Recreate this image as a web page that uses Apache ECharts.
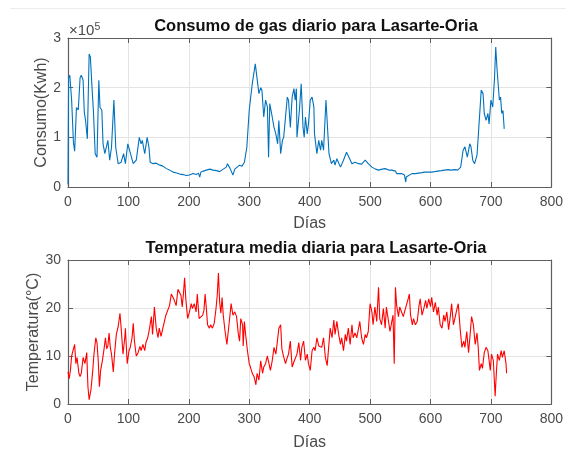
<!DOCTYPE html>
<html>
<head>
<meta charset="utf-8">
<script src="https://cdn.jsdelivr.net/npm/echarts@6/dist/echarts.min.js"></script>
<style>
  html, body { margin: 0; padding: 0; background: #fff; }
  #chart { width: 566px; height: 452px; }
</style>
</head>
<body>
<div id="chart"></div>
<script>
// Consumo diario de gas: [día, consumo en 10^5 Kwh]
const gasDiario = [
  [0,0.05],[1,2.2],[3,2.25],[6,1.75],[9,0.9],[11,0.72],[14,1.6],[17,1.55],[20,2.2],[22,2.25],
  [25,2.15],[27,1.5],[29,1.35],[32,0.97],[35,2.68],[37,2.62],[40,1.95],[42,1.55],[45,0.67],[48,0.6],
  [51,2.15],[53,1.6],[56,1.55],[58,0.87],[61,0.67],[64,0.68],[66,0.94],[69,0.54],[72,0.8],[76,1.75],
  [79,0.8],[83,0.47],[88,0.5],[92,0.67],[95,0.47],[99,0.87],[102,0.87],[105,0.6],[108,0.47],[113,0.54],
  [118,1.0],[121,0.87],[123,0.94],[127,0.67],[131,1.0],[134,0.8],[136,0.5],[141,0.47],[146,0.48],[152,0.44],
  [157,0.42],[163,0.37],[168,0.34],[174,0.3],[180,0.28],[185,0.26],[190,0.25],[196,0.23],[201,0.24],[207,0.27],
  [212,0.25],[216,0.28],[218,0.2],[220,0.3],[224,0.32],[229,0.34],[235,0.36],[240,0.34],[246,0.33],[251,0.31],
  [257,0.36],[262,0.4],[264,0.47],[268,0.38],[271,0.34],[273,0.24],[276,0.36],[280,0.4],[284,0.44],[288,0.42],
  [292,0.5],[296,0.8],[300,1.55],[305,2.08],[310,2.48],[312,2.52],[316,1.88],[319,2.0],[321,1.95],[324,1.41],
  [327,1.75],[330,1.62],[332,0.6],[334,1.68],[338,1.41],[341,1.2],[344,1.07],[347,0.87],[349,1.34],[352,0.67],
  [355,0.94],[357,1.0],[363,1.81],[365,1.75],[368,1.2],[371,1.81],[374,1.98],[376,1.75],[378,1.98],[379,1.0],
  [383,1.54],[386,2.08],[389,1.2],[391,1.0],[393,1.41],[396,1.07],[398,1.27],[401,1.75],[404,1.81],[407,1.61],
  [408,1.07],[412,0.67],[415,0.94],[418,0.74],[420,0.94],[423,0.74],[427,1.75],[430,1.75],[432,0.67],[436,0.47],
  [440,0.54],[442,0.44],[445,0.57],[451,0.4],[456,0.54],[461,0.7],[465,0.6],[470,0.47],[475,0.5],[481,0.47],
  [486,0.46],[492,0.54],[497,0.47],[503,0.4],[509,0.36],[514,0.34],[520,0.36],[525,0.37],[531,0.34],[536,0.34],
  [542,0.32],[544,0.27],[547,0.3],[552,0.27],[557,0.24],[559,0.1],[560,0.2],[563,0.24],[569,0.27],[575,0.27],
  [580,0.28],[586,0.29],[590,0.3],[596,0.3],[601,0.3],[607,0.31],[612,0.32],[618,0.33],[623,0.34],[629,0.35],
  [634,0.34],[640,0.35],[645,0.34],[650,0.4],[654,0.74],[657,0.81],[661,0.6],[665,0.87],[667,0.81],[670,0.54],
  [673,0.47],[677,0.64],[680,1.2],[684,1.95],[687,1.88],[689,1.48],[692,1.34],[695,1.48],[697,1.27],[700,1.75],
  [703,1.61],[706,2.2],[708,2.82],[710,2.4],[714,1.75],[716,1.81],[718,1.48],[720,1.54],[722,1.17]
];

// Temperatura media diaria: [día, °C]
const tempDiaria = [
  [0,6.7],[2,5.3],[4,7],[6,10],[9,9.7],[11,12.4],[13,8.4],[15,9.7],[18,6.4],[20,5.7],
  [22,6.4],[25,9.7],[28,8.4],[31,10.7],[33,3.6],[35,0.9],[38,3],[41,7],[43,10.4],[46,13.8],
  [48,12.8],[50,9.1],[52,3.6],[54,7],[57,9.1],[60,11.8],[62,13.8],[64,11.5],[66,12.1],[68,14.8],
  [70,11.8],[72,10.4],[75,6.7],[77,10.4],[80,14.5],[83,16.1],[86,18.9],[88,15.8],[91,10.4],[94,13.8],
  [95,15.8],[98,8.4],[101,11.1],[103,11.8],[106,13.8],[108,16.8],[110,13.1],[113,10],[116,10.7],[119,12],
  [121,11.1],[124,12.4],[127,11.1],[129,12.8],[132,13.8],[135,15.8],[138,18.2],[140,14.5],[143,20.2],[146,15.8],
  [149,13.8],[151,15.8],[154,14.1],[157,15.8],[160,16.1],[162,18.5],[165,18.2],[168,20.5],[171,22.9],[173,22.6],
  [176,21.6],[179,20.5],[182,23.9],[184,23.6],[187,22.6],[189,20.2],[191,22.9],[193,26.3],[195,21.9],[198,17.8],
  [201,19.2],[204,20.9],[206,19.9],[209,20.9],[212,19.2],[214,22.9],[217,17.8],[220,18.2],[223,18.5],[225,19.5],
  [227,22.9],[229,19.9],[231,16.5],[234,15.8],[236,16.5],[239,15.8],[242,16.8],[245,19.9],[247,22.6],[249,27.3],
  [251,21.2],[253,18.9],[255,22.2],[257,18.5],[260,15.1],[263,12.4],[267,17.2],[270,20.9],[273,18.5],[276,19.2],
  [279,18.2],[282,14.5],[284,13.1],[286,17.8],[289,16.5],[290,12.1],[292,17.2],[294,14.5],[297,11.1],[300,8.4],
  [302,7.7],[305,6.4],[308,5.7],[311,4],[313,6.4],[316,5],[319,9],[322,6.4],[324,7.7],[327,8.4],
  [330,10],[333,10],[335,7],[338,9],[341,11.8],[344,10.4],[346,12.4],[349,15.8],[352,16.5],[354,11.5],
  [357,9.8],[360,8.4],[363,9.7],[365,10.4],[368,13.1],[371,7.7],[374,8.8],[376,8.4],[379,10.4],[382,12.8],
  [385,9.1],[387,11.8],[390,13.1],[393,9.1],[396,10.4],[398,8.4],[401,7],[404,11.1],[407,11.8],[409,11.1],
  [412,13.8],[415,12.1],[418,12.4],[420,11.8],[423,13.8],[426,9.7],[429,8],[431,11.1],[434,15.8],[437,13.8],
  [440,17.5],[442,14.5],[445,17.2],[448,14.5],[451,12.4],[453,13.8],[456,11.1],[459,14.5],[461,13.1],[464,15.8],
  [467,12.4],[470,16.5],[472,13.8],[475,14.8],[478,13.8],[481,15.8],[483,17.2],[486,13.8],[489,12.4],[492,14.5],
  [494,13.8],[497,15.1],[500,20.9],[503,19.2],[505,16.5],[508,20.2],[511,17.2],[514,24.3],[516,17.8],[519,16.5],
  [522,19.9],[525,15.8],[527,20.2],[530,20.5],[533,15.1],[536,17.2],[538,18.5],[540,8.4],[542,24.3],[544,20.5],
  [547,18.2],[549,20.2],[552,20.5],[555,18.2],[557,19.2],[560,19.2],[563,21.9],[565,22.9],[567,18.5],[570,16.5],
  [572,17.8],[575,16.5],[578,17.2],[581,20.5],[583,21.9],[586,18.5],[589,19.9],[592,21.6],[594,19.9],[597,21.9],
  [600,20.3],[602,22.2],[605,19.2],[608,21.2],[611,18.5],[613,20.2],[616,16.5],[619,15.8],[622,18.5],[624,17.2],
  [627,19.2],[630,15.5],[633,18.5],[635,20.9],[638,16.5],[641,18.2],[644,19.9],[646,20.9],[649,15.8],[652,11.8],
  [655,13.1],[657,11.8],[660,15.1],[663,10.7],[666,15.1],[668,18.2],[671,16.5],[674,12.4],[677,14.8],[679,11.8],
  [681,7],[684,8.4],[686,7.4],[689,10.7],[692,11.8],[695,11.1],[697,9.1],[699,7],[701,10.4],[704,9.1],
  [707,1.6],[709,6.4],[711,10.4],[714,9.1],[717,11.1],[719,9.7],[722,11.1],[725,8.4],[726,6.4]
];

const titulos = ['Consumo de gas diario para Lasarte-Oria', 'Temperatura media diaria para Lasarte-Oria'];
const nombreEjeX = 'Días';
const nombresEjeY = ['Consumo(Kwh)', 'Temperatura(°C)'];

const FONT = '"Liberation Sans", Arial, Helvetica, sans-serif';
const AXIS_COLOR = '#5e5e5e';
const TEXT_COLOR = '#4a4a4a';
const GRID_COLOR = '#e4e4e4';

const grids = [
  { left: 68, top: 38, width: 486, height: 149 },
  { left: 68, top: 260, width: 486, height: 148 }
];

function mainX(gi, gap) {
  return {
    type: 'value', gridIndex: gi, min: 0, max: 800, interval: 100,
    name: nombreEjeX, nameLocation: 'middle', nameGap: gap, nameMoveOverlap: false,
    nameTextStyle: { fontFamily: FONT, fontSize: 16, color: TEXT_COLOR },
    axisLine: { show: true, onZero: false, lineStyle: { color: AXIS_COLOR, width: 1.2 } },
    axisTick: { show: true, inside: true, length: 5, lineStyle: { color: AXIS_COLOR } },
    axisLabel: { fontFamily: FONT, fontSize: 14, color: TEXT_COLOR, margin: 8 },
    splitLine: { show: true, lineStyle: { color: GRID_COLOR, width: 1 } }
  };
}
function sideX(gi) {
  return {
    type: 'value', gridIndex: gi, position: 'top', min: 0, max: 800, interval: 100,
    axisLine: { show: true, onZero: false, lineStyle: { color: AXIS_COLOR, width: 1.2 } },
    axisTick: { show: true, inside: true, length: 5, lineStyle: { color: AXIS_COLOR } },
    axisLabel: { show: false }, splitLine: { show: false }
  };
}
function mainY(gi, max, interval, name, gap) {
  return {
    type: 'value', gridIndex: gi, min: 0, max: max, interval: interval,
    name: name, nameLocation: 'middle', nameGap: gap, nameMoveOverlap: false,
    nameTextStyle: { fontFamily: FONT, fontSize: 16, color: TEXT_COLOR },
    axisLine: { show: true, onZero: false, lineStyle: { color: AXIS_COLOR, width: 1.2 } },
    axisTick: { show: true, inside: true, length: 5, lineStyle: { color: AXIS_COLOR } },
    axisLabel: { fontFamily: FONT, fontSize: 14, color: TEXT_COLOR, margin: 7 },
    splitLine: { show: true, lineStyle: { color: GRID_COLOR, width: 1 } }
  };
}
function sideY(gi, max, interval) {
  return {
    type: 'value', gridIndex: gi, position: 'right', min: 0, max: max, interval: interval,
    axisLine: { show: true, onZero: false, lineStyle: { color: AXIS_COLOR, width: 1.2 } },
    axisTick: { show: true, inside: true, length: 5, lineStyle: { color: AXIS_COLOR } },
    axisLabel: { show: false }, splitLine: { show: false }
  };
}

const chart = echarts.init(document.getElementById('chart'), null, { renderer: 'canvas' });
chart.setOption({
  animation: false,
  backgroundColor: '#ffffff',
  title: [
    { text: titulos[0], left: 311, top: 13, textAlign: 'center',
      textStyle: { fontFamily: FONT, fontSize: 16.5, fontWeight: 'bold', color: '#111' } },
    { text: titulos[1], left: 311, top: 235, textAlign: 'center',
      textStyle: { fontFamily: FONT, fontSize: 16.5, fontWeight: 'bold', color: '#111' } }
  ],
  grid: grids,
  xAxis: [mainX(0, 29), sideX(0), mainX(1, 31), sideX(1)],
  yAxis: [
    mainY(0, 3, 1, nombresEjeY[0], 18),
    sideY(0, 3, 1),
    mainY(1, 30, 10, nombresEjeY[1], 26),
    sideY(1, 30, 10)
  ],
  graphic: [
    { type: 'line', shape: { x1: 10, y1: 8.5, x2: 566, y2: 8.5 },
      style: { stroke: '#ececec', lineWidth: 1 } },
    { type: 'text', left: 69, top: 22,
      style: { text: '×10{s|5}', fontFamily: FONT, fontSize: 15, fill: TEXT_COLOR,
        rich: { s: { fontFamily: FONT, fontSize: 10.5, fill: TEXT_COLOR, verticalAlign: 'top', padding: [0, 0, 7, 0] } } } }
  ],
  series: [
    { type: 'line', xAxisIndex: 0, yAxisIndex: 0, data: gasDiario, showSymbol: false,
      lineStyle: { color: '#0072BD', width: 1.1 }, itemStyle: { color: '#0072BD' } },
    { type: 'line', xAxisIndex: 2, yAxisIndex: 2, data: tempDiaria, showSymbol: false,
      lineStyle: { color: '#FF0000', width: 1.1 }, itemStyle: { color: '#FF0000' } }
  ]
});
</script>
</body>
</html>
